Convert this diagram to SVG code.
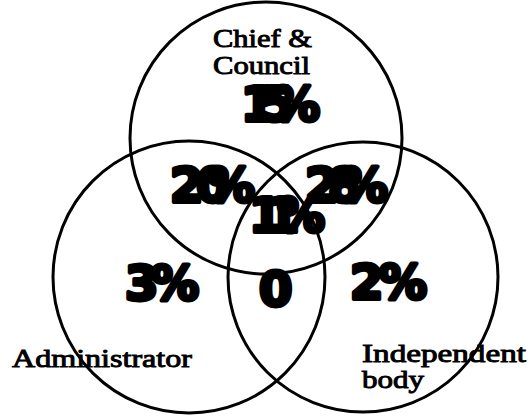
<svg xmlns="http://www.w3.org/2000/svg" width="530" height="416" viewBox="0 0 530 416">
<style>
.c{fill:none;stroke:#000;stroke-width:3}
.lbl{font-family:"Liberation Serif","Times New Roman",serif;font-size:25px;fill:#000;stroke:#000;stroke-width:0.9}
.num{font-family:"DejaVu Sans",sans-serif;font-weight:bold;font-size:48px;fill:#000;stroke:#000;stroke-width:4;stroke-linejoin:round}
</style>
<rect width="530" height="416" fill="#fff"/>
<g id="circles">
<circle id="c-top" class="c" cx="266" cy="138" r="136"/>
<circle id="c-left" class="c" cx="189" cy="277" r="136"/>
<circle id="c-right" class="c" cx="363" cy="277" r="135"/>
</g>
<g id="labels">
<text class="lbl" x="213" y="47" textLength="99" lengthAdjust="spacingAndGlyphs">Chief &amp;</text>
<text class="lbl" x="213" y="74" textLength="97" lengthAdjust="spacingAndGlyphs">Council</text>
<text class="lbl" x="12" y="367" textLength="180" lengthAdjust="spacingAndGlyphs">Administrator</text>
<text class="lbl" x="362" y="362" textLength="164" lengthAdjust="spacingAndGlyphs">Independent</text>
<text class="lbl" x="362" y="388" textLength="62" lengthAdjust="spacingAndGlyphs">body</text>
</g>
<g id="numbers">
<text class="num" x="241 260 272" y="121">15%</text>
<text class="num" x="170 196 207" y="202">20%</text>
<text class="num" x="305 328 340" y="202">28%</text>
<text class="num" x="249 266 277" y="232">11%</text>
<text class="num" x="125 151" y="300">3%</text>
<text class="num" x="350 379" y="299">2%</text>
<text class="num" x="259" y="306">0</text>
</g>
</svg>
